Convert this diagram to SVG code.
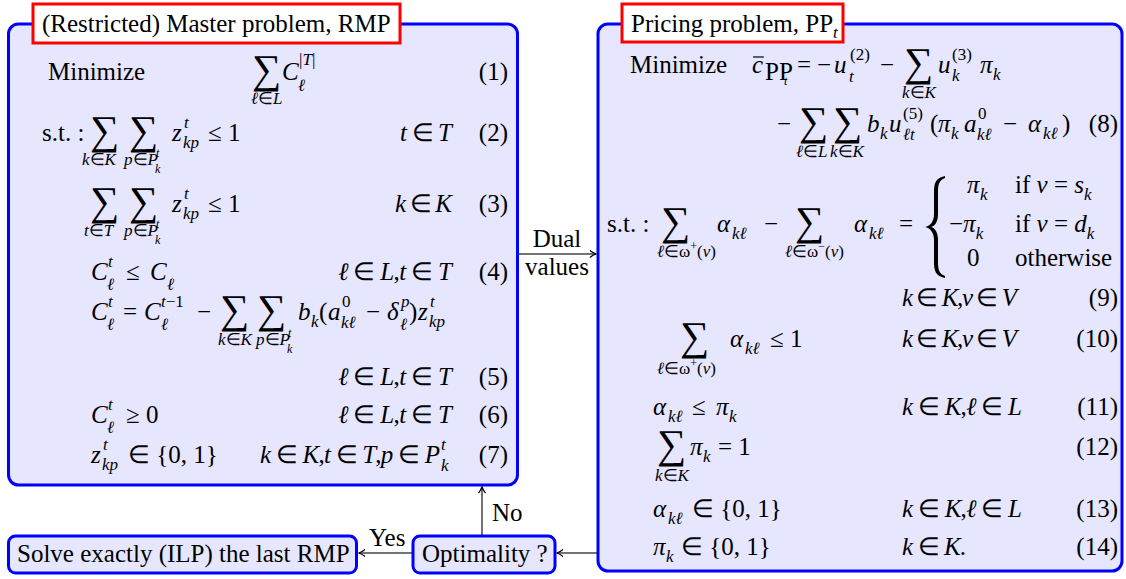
<svg xmlns="http://www.w3.org/2000/svg" width="1126" height="579" viewBox="0 0 1126 579">
<style>
.t{font-family:"Liberation Serif","Times New Roman",serif;font-size:25px;fill:#000}
.i{font-style:italic}
.s{font-size:17px}
.ss{font-size:12px}
.sum{font-size:41px}
.n{text-anchor:end}
.box{fill:#e6e6ff;stroke:#0000ff;stroke-width:3}
.title{fill:#fff;stroke:#ff0000;stroke-width:3}
.c{stroke:#444;stroke-width:1.5;fill:none}
</style>
<defs>
<marker id="ar" markerWidth="10" markerHeight="10" refX="7" refY="5" orient="auto" markerUnits="userSpaceOnUse">
<path d="M1,1.5 Q4,4 7,5 Q4,6 1,8.5" fill="none" stroke="#000" stroke-width="1.3"/>
</marker>
</defs>

<g id="connectors">
<line class="c" x1="518" y1="254" x2="596" y2="254" marker-end="url(#ar)"/>
<line class="c" x1="597" y1="553" x2="557" y2="553" marker-end="url(#ar)"/>
<line class="c" x1="413" y1="553" x2="359" y2="553" marker-end="url(#ar)"/>
<line class="c" x1="482" y1="536" x2="482" y2="487" marker-end="url(#ar)"/>
<text class="t" x="557" y="247" text-anchor="middle">Dual</text>
<text class="t" x="557" y="275" text-anchor="middle">values</text>
<text class="t" x="369" y="546">Yes</text>
<text class="t" x="492" y="521">No</text>
</g>

<g id="rmp">
<rect class="box" x="8.5" y="24" width="509" height="461" rx="10"/>
<rect class="title" x="33" y="4" width="367" height="39"/>
<text class="t" x="42" y="32">(Restricted) Master problem, RMP</text>
<!-- (1) -->
<text class="t" x="48" y="80">Minimize</text>
<text class="t sum" x="252" y="83">∑</text>
<text class="t i" x="282" y="80">C</text>
<text class="t s" x="299" y="65">|<tspan class="i">T</tspan>|</text>
<text class="t s i" x="298" y="91">ℓ</text>
<text class="t s" x="251" y="104"><tspan class="i">ℓ</tspan>∈<tspan class="i">L</tspan></text>
<text class="t n" x="508" y="80">(1)</text>
<!-- (2) -->
<text class="t" x="42" y="141">s.t. :</text>
<text class="t sum" x="90" y="144">∑</text>
<text class="t sum" x="129" y="144">∑</text>
<text class="t i" x="172" y="141">z</text>
<text class="t s i" x="184" y="128">t</text>
<text class="t s i" x="183" y="148">kp</text>
<text class="t" x="208" y="141">≤ 1</text>
<text class="t" x="400" y="141" textLength="52" lengthAdjust="spacing"><tspan class="i">t</tspan> ∈ <tspan class="i">T</tspan></text>
<text class="t n" x="508" y="141">(2)</text>
<text class="t s" x="82" y="165"><tspan class="i">k</tspan>∈<tspan class="i">K</tspan></text>
<text class="t s" x="124" y="165"><tspan class="i">p</tspan>∈<tspan class="i">P</tspan></text>
<text class="t ss i" x="156" y="157">t</text>
<text class="t ss i" x="155" y="173">k</text>
<!-- (3) -->
<text class="t sum" x="90" y="215">∑</text>
<text class="t sum" x="129" y="215">∑</text>
<text class="t i" x="172" y="212">z</text>
<text class="t s i" x="184" y="199">t</text>
<text class="t s i" x="183" y="219">kp</text>
<text class="t" x="208" y="212">≤ 1</text>
<text class="t" x="395" y="212" textLength="57" lengthAdjust="spacing"><tspan class="i">k</tspan> ∈ <tspan class="i">K</tspan></text>
<text class="t n" x="508" y="212">(3)</text>
<text class="t s" x="84" y="236"><tspan class="i">t</tspan>∈<tspan class="i">T</tspan></text>
<text class="t s" x="124" y="236"><tspan class="i">p</tspan>∈<tspan class="i">P</tspan></text>
<text class="t ss i" x="156" y="228">t</text>
<text class="t ss i" x="155" y="244">k</text>
<!-- (4) -->
<text class="t i" x="91" y="280">C</text>
<text class="t s i" x="108" y="267">t</text>
<text class="t s i" x="107" y="290">ℓ</text>
<text class="t" x="126" y="280">≤</text>
<text class="t i" x="150" y="280">C</text>
<text class="t s i" x="167" y="290">ℓ</text>
<text class="t" x="338" y="280" textLength="114" lengthAdjust="spacing"><tspan class="i">ℓ</tspan> ∈ <tspan class="i">L</tspan>,<tspan class="i">t</tspan> ∈ <tspan class="i">T</tspan></text>
<text class="t n" x="508" y="280">(4)</text>
<!-- (5) -->
<text class="t i" x="91" y="320">C</text>
<text class="t s i" x="108" y="307">t</text>
<text class="t s i" x="107" y="330">ℓ</text>
<text class="t" x="123" y="320">=</text>
<text class="t i" x="144" y="320">C</text>
<text class="t s" x="161" y="307"><tspan class="i">t</tspan>−1</text>
<text class="t s i" x="161" y="330">ℓ</text>
<text class="t" x="197" y="320">−</text>
<text class="t sum" x="220" y="323">∑</text>
<text class="t sum" x="257" y="323">∑</text>
<text class="t i" x="298" y="320">b</text>
<text class="t s i" x="311" y="327">k</text>
<text class="t" x="319" y="320">(</text>
<text class="t i" x="328" y="320">a</text>
<text class="t s" x="342" y="307">0</text>
<text class="t s i" x="341" y="328">kℓ</text>
<text class="t" x="366" y="320">−</text>
<text class="t i" x="387" y="320">δ</text>
<text class="t s i" x="401" y="307">p</text>
<text class="t s i" x="400" y="330">ℓ</text>
<text class="t" x="409" y="320">)</text>
<text class="t i" x="418" y="320">z</text>
<text class="t s i" x="430" y="307">t</text>
<text class="t s i" x="429" y="327">kp</text>
<text class="t s" x="218" y="345"><tspan class="i">k</tspan>∈<tspan class="i">K</tspan></text>
<text class="t s" x="256" y="345"><tspan class="i">p</tspan>∈<tspan class="i">P</tspan></text>
<text class="t ss i" x="288" y="337">t</text>
<text class="t ss i" x="287" y="353">k</text>
<text class="t" x="338" y="385" textLength="114" lengthAdjust="spacing"><tspan class="i">ℓ</tspan> ∈ <tspan class="i">L</tspan>,<tspan class="i">t</tspan> ∈ <tspan class="i">T</tspan></text>
<text class="t n" x="508" y="385">(5)</text>
<!-- (6) -->
<text class="t i" x="91" y="423">C</text>
<text class="t s i" x="108" y="410">t</text>
<text class="t s i" x="107" y="433">ℓ</text>
<text class="t" x="126" y="423">≥ 0</text>
<text class="t" x="338" y="423" textLength="114" lengthAdjust="spacing"><tspan class="i">ℓ</tspan> ∈ <tspan class="i">L</tspan>,<tspan class="i">t</tspan> ∈ <tspan class="i">T</tspan></text>
<text class="t n" x="508" y="423">(6)</text>
<!-- (7) -->
<text class="t i" x="91" y="463">z</text>
<text class="t s i" x="103" y="450">t</text>
<text class="t s i" x="102" y="470">kp</text>
<text class="t" x="128" y="463">∈ {0, 1}</text>
<text class="t" x="260" y="463" textLength="180" lengthAdjust="spacing"><tspan class="i">k</tspan> ∈ <tspan class="i">K</tspan>,<tspan class="i">t</tspan> ∈ <tspan class="i">T</tspan>,<tspan class="i">p</tspan> ∈ <tspan class="i">P</tspan></text>
<text class="t s i" x="441" y="450">t</text>
<text class="t s i" x="441" y="471">k</text>
<text class="t n" x="508" y="463">(7)</text>
</g>

<g id="pp">
<rect class="box" x="598" y="24" width="524" height="547" rx="10"/>
<rect class="title" x="622" y="4" width="221" height="38"/>
<text class="t" x="631" y="32">Pricing problem, PP<tspan class="s i" dy="6">t</tspan></text>
<!-- (8) -->
<text class="t" x="630" y="73">Minimize</text>
<text class="t i" x="752" y="73">c</text>
<line x1="753" y1="57" x2="764" y2="57" stroke="#000" stroke-width="1.2"/>
<text class="t" x="765" y="80" font-size="14">PP</text>
<text class="t ss i" x="784" y="85">t</text>
<text class="t" x="797" y="73">=</text>
<text class="t" x="817" y="73">−</text>
<text class="t i" x="834" y="73">u</text>
<text class="t s" x="850" y="60">(2)</text>
<text class="t s i" x="849" y="82">t</text>
<text class="t" x="880" y="73">−</text>
<text class="t sum" x="904" y="76">∑</text>
<text class="t s" x="902" y="98"><tspan class="i">k</tspan>∈<tspan class="i">K</tspan></text>
<text class="t i" x="938" y="73">u</text>
<text class="t s" x="952" y="60">(3)</text>
<text class="t s i" x="952" y="81">k</text>
<text class="t i" x="980" y="73">π</text>
<text class="t s i" x="993" y="80">k</text>

<text class="t" x="777" y="132">−</text>
<text class="t sum" x="799" y="135">∑</text>
<text class="t sum" x="833" y="135">∑</text>
<text class="t s" x="796" y="157"><tspan class="i">ℓ</tspan>∈<tspan class="i">L</tspan></text>
<text class="t s" x="830" y="157"><tspan class="i">k</tspan>∈<tspan class="i">K</tspan></text>
<text class="t i" x="867" y="132">b</text>
<text class="t s i" x="880" y="139">k</text>
<text class="t i" x="889" y="132">u</text>
<text class="t s" x="903" y="119">(5)</text>
<text class="t s i" x="903" y="140">ℓt</text>
<text class="t" x="930" y="132">(</text>
<text class="t i" x="938" y="132">π</text>
<text class="t s i" x="951" y="139">k</text>
<text class="t i" x="964" y="132">a</text>
<text class="t s" x="978" y="119">0</text>
<text class="t s i" x="977" y="140">kℓ</text>
<text class="t" x="1003" y="132">−</text>
<text class="t i" x="1028" y="132">α</text>
<text class="t s i" x="1043" y="139">kℓ</text>
<text class="t" x="1062" y="132">)</text>
<text class="t n" x="1118" y="132">(8)</text>
<!-- (9) -->
<text class="t" x="607" y="232">s.t. :</text>
<text class="t sum" x="661" y="235">∑</text>
<text class="t s" x="657" y="257"><tspan class="i">ℓ</tspan>∈ω<tspan class="ss" dy="-7">+</tspan><tspan dy="7">(</tspan><tspan class="i">v</tspan>)</text>
<text class="t i" x="717" y="232">α</text>
<text class="t s i" x="732" y="239">kℓ</text>
<text class="t" x="764" y="232">−</text>
<text class="t sum" x="795" y="235">∑</text>
<text class="t s" x="785" y="257"><tspan class="i">ℓ</tspan>∈ω<tspan class="ss" dy="-7">−</tspan><tspan dy="7">(</tspan><tspan class="i">v</tspan>)</text>
<text class="t i" x="854" y="232">α</text>
<text class="t s i" x="869" y="239">kℓ</text>
<text class="t" x="899" y="232">=</text>
<path d="M945,176 C935,178 934,184 934,192 L934,214 C934,222 930,226 925,227 C930,228 934,232 934,240 L934,262 C934,270 935,276 945,278 L945,276 C939,274 938,269 938,262 L938,240 C938,232 935,228 931,227 C935,226 938,222 938,214 L938,192 C938,185 939,180 945,178 Z" fill="#000"/>
<text class="t i" x="967" y="193">π</text>
<text class="t s i" x="980" y="200">k</text>
<text class="t" x="1015" y="193">if <tspan class="i">v</tspan> = <tspan class="i">s</tspan><tspan class="s i" dy="7">k</tspan></text>
<text class="t" x="949" y="232">−<tspan class="i">π</tspan><tspan class="s i" dy="7">k</tspan></text>
<text class="t" x="1015" y="232">if <tspan class="i">v</tspan> = <tspan class="i">d</tspan><tspan class="s i" dy="7">k</tspan></text>
<text class="t" x="967" y="266">0</text>
<text class="t" x="1015" y="266">otherwise</text>
<text class="t" x="902" y="306" textLength="115" lengthAdjust="spacing"><tspan class="i">k</tspan> ∈ <tspan class="i">K</tspan>,<tspan class="i">v</tspan> ∈ <tspan class="i">V</tspan></text>
<text class="t n" x="1118" y="306">(9)</text>
<!-- (10) -->
<text class="t sum" x="680" y="350">∑</text>
<text class="t s" x="657" y="374"><tspan class="i">ℓ</tspan>∈ω<tspan class="ss" dy="-7">+</tspan><tspan dy="7">(</tspan><tspan class="i">v</tspan>)</text>
<text class="t i" x="730" y="347">α</text>
<text class="t s i" x="745" y="354">kℓ</text>
<text class="t" x="770" y="347">≤ 1</text>
<text class="t" x="902" y="347" textLength="115" lengthAdjust="spacing"><tspan class="i">k</tspan> ∈ <tspan class="i">K</tspan>,<tspan class="i">v</tspan> ∈ <tspan class="i">V</tspan></text>
<text class="t n" x="1118" y="347">(10)</text>
<!-- (11) -->
<text class="t i" x="653" y="415">α</text>
<text class="t s i" x="668" y="422">kℓ</text>
<text class="t" x="692" y="415">≤</text>
<text class="t i" x="716" y="415">π</text>
<text class="t s i" x="729" y="422">k</text>
<text class="t" x="902" y="415" textLength="120" lengthAdjust="spacing"><tspan class="i">k</tspan> ∈ <tspan class="i">K</tspan>,<tspan class="i">ℓ</tspan> ∈ <tspan class="i">L</tspan></text>
<text class="t n" x="1118" y="415">(11)</text>
<!-- (12) -->
<text class="t sum" x="657" y="458">∑</text>
<text class="t s" x="655" y="481"><tspan class="i">k</tspan>∈<tspan class="i">K</tspan></text>
<text class="t i" x="690" y="455">π</text>
<text class="t s i" x="703" y="462">k</text>
<text class="t" x="718" y="455">= 1</text>
<text class="t n" x="1118" y="455">(12)</text>
<!-- (13) -->
<text class="t i" x="653" y="517">α</text>
<text class="t s i" x="668" y="524">kℓ</text>
<text class="t" x="692" y="517">∈ {0, 1}</text>
<text class="t" x="902" y="517" textLength="120" lengthAdjust="spacing"><tspan class="i">k</tspan> ∈ <tspan class="i">K</tspan>,<tspan class="i">ℓ</tspan> ∈ <tspan class="i">L</tspan></text>
<text class="t n" x="1118" y="517">(13)</text>
<!-- (14) -->
<text class="t i" x="653" y="555">π</text>
<text class="t s i" x="666" y="562">k</text>
<text class="t" x="681" y="555">∈ {0, 1}</text>
<text class="t" x="902" y="555" textLength="64" lengthAdjust="spacing"><tspan class="i">k</tspan> ∈ <tspan class="i">K</tspan>.</text>
<text class="t n" x="1118" y="555">(14)</text>
</g>

<g id="solve">
<rect class="box" x="8.5" y="536" width="348" height="37" rx="7"/>
<text class="t" x="17" y="562">Solve exactly (ILP) the last RMP</text>
</g>
<g id="optimality">
<rect class="box" x="413" y="536" width="142" height="37" rx="7"/>
<text class="t" x="422" y="562">Optimality ?</text>
</g>
</svg>
